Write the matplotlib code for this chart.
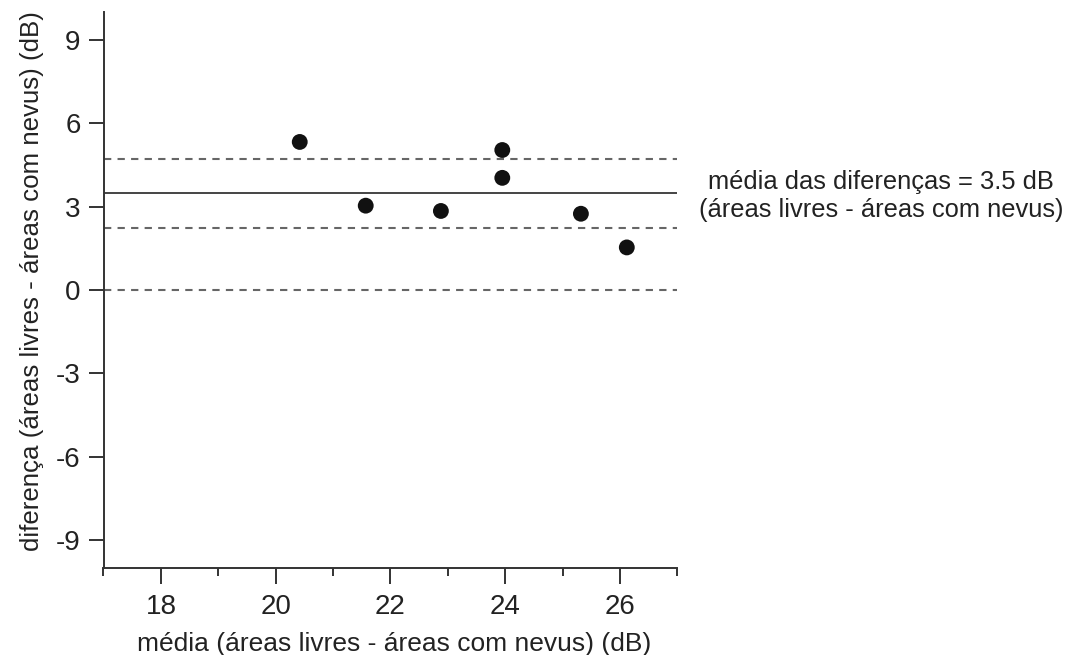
import matplotlib
matplotlib.use("Agg")
import matplotlib.pyplot as plt
from matplotlib.ticker import MultipleLocator

plt.rcParams['font.family'] = ['Liberation Sans', 'DejaVu Sans']
plt.rcParams['axes.unicode_minus'] = False

# data
media = [20.42, 21.57, 22.88, 23.95, 23.95, 25.32, 26.12]
diferenca = [5.32, 3.03, 2.84, 5.03, 4.03, 2.74, 1.53]
mean_diff = 3.5
upper_limit = 4.72
lower_limit = 2.22
zero_line = 0.0
x_ticks = [18, 20, 22, 24, 26]
y_ticks = [-9, -6, -3, 0, 3, 6, 9]
xlabel = "média (áreas livres - áreas com nevus) (dB)"
ylabel = "diferença (áreas livres - áreas com nevus) (dB)"
annotation = "média das diferenças = 3.5 dB\n(áreas livres - áreas com nevus)"

fig = plt.figure(figsize=(10.77, 6.55), dpi=100)
ax = fig.add_axes([103.5/1077, 1-568.3/655, (677.3-103.5)/1077, (568.3-11.7)/655])

text_color = '#222222'
ax.set_xlim(17, 27)
ax.set_ylim(-10, 10)

ax.axhline(mean_diff, color='#444444', lw=1.4, zorder=2)
for v in (upper_limit, lower_limit, zero_line):
    ax.axhline(v, color='#666666', lw=1.5, linestyle=(0, (3.5, 3.0)), zorder=2)

ax.scatter(media, diferenca, s=130, color='#111111', zorder=3, edgecolors='none')

for s in ('top', 'right'):
    ax.spines[s].set_visible(False)
for s in ('left', 'bottom'):
    ax.spines[s].set_color('#333333')
    ax.spines[s].set_linewidth(1.4)

ax.set_xticks(x_ticks)
ax.xaxis.set_minor_locator(MultipleLocator(1))
ax.set_yticks(y_ticks)
ax.tick_params(axis='x', which='major', direction='out', length=11.5, width=1.4,
               color='#333333', labelsize=20, labelcolor=text_color, pad=7)
ax.tick_params(axis='x', which='minor', direction='out', length=5.5, width=1.4,
               color='#333333')
ax.tick_params(axis='y', which='major', direction='out', length=10.5, width=1.4,
               color='#333333', labelsize=20, labelcolor=text_color, pad=6)

ax.set_xlabel(xlabel, fontsize=19, color=text_color, va='center')
ax.xaxis.set_label_coords(0.506, -0.136)
ax.set_ylabel(ylabel, fontsize=18.6, color=text_color, va='center')
ax.yaxis.set_label_coords(-0.1246, 0.516)

fig.text(881/1077, 1-196/655, annotation, ha='center', va='center',
         multialignment='center', fontsize=18.4, color=text_color, linespacing=1.22)

fig.savefig('out.png', dpi=100, facecolor='white')
